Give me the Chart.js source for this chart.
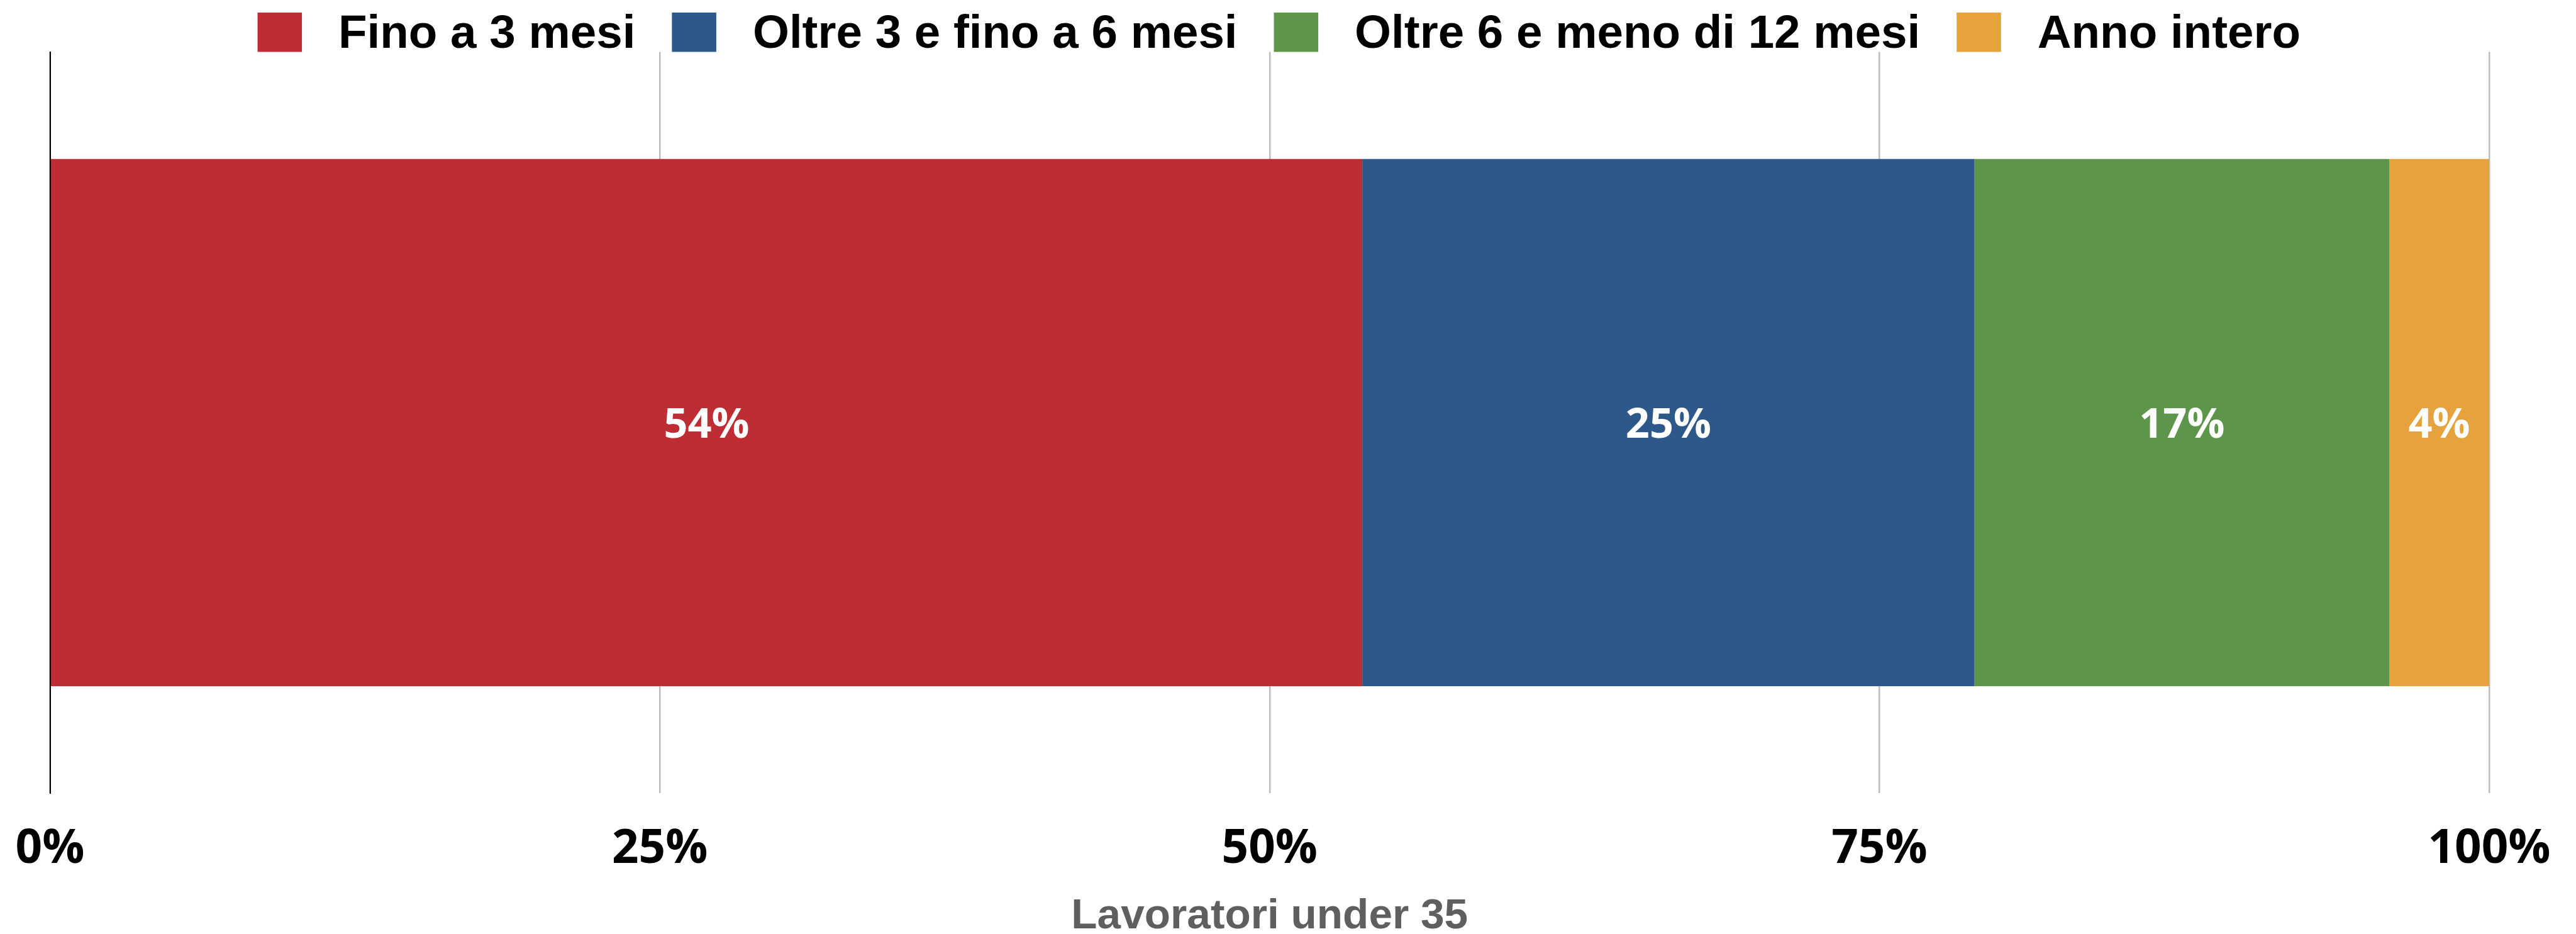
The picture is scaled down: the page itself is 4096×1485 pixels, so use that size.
<!DOCTYPE html>
<html>
<head>
<meta charset="utf-8">
<script src="https://cdn.jsdelivr.net/npm/chart.js@4"></script>
<style>
  html, body { margin: 0; padding: 0; background: #fff; }
  #wrap { width: 4096px; height: 1485px; position: relative; }
</style>
</head>
<body>
<div id="wrap"><canvas id="chart"></canvas></div>
<script>
// stacked 100% bar: duration of contracts, workers under 35
const categories = ['Lavoratori under 35'];
const seriesNames = ['Fino a 3 mesi', 'Oltre 3 e fino a 6 mesi', 'Oltre 6 e meno di 12 mesi', 'Anno intero'];
const seriesValues = [53.8, 25.1, 17.0, 4.1];
const seriesColors = ['#bd2d33', '#2e588a', '#5d964a', '#e6a23d'];
const tickValues = [0, 25, 50, 75, 100];

const S = 0.994; // reference -> window scale

// white % labels in the middle of each segment
const segmentLabels = {
  id: 'segmentLabels',
  afterDatasetsDraw(chart) {
    const ctx = chart.ctx;
    const fs = 67 * S;
    ctx.save();
    ctx.font = '700 ' + fs + 'px "Open Sans"';
    ctx.fillStyle = '#ffffff';
    ctx.textAlign = 'center';
    ctx.textBaseline = 'alphabetic';
    chart.data.datasets.forEach((ds, i) => {
      chart.getDatasetMeta(i).data.forEach((bar, j) => {
        const cx = (bar.x + bar.base) / 2;
        ctx.fillText(Math.round(ds.data[j]) + '%', cx, bar.y + fs * 0.357);
      });
    });
    ctx.restore();
  }
};

// legend sits partly over the plot top, so trim its height; nudge it right a bit
const legendFix = {
  id: 'legendFix',
  beforeInit(chart) {
    const fit = chart.legend.fit;
    chart.legend.fit = function () {
      fit.call(this);
      this.height = 122;
    };
  },
  afterLayout(chart) {
    chart.legend.left += 15;
    chart.legend.right += 15;
  }
};

new Chart(document.getElementById('chart'), {
  type: 'bar',
  data: {
    labels: categories,
    datasets: seriesNames.map((name, i) => ({
      label: name,
      data: [seriesValues[i]],
      backgroundColor: seriesColors[i],
      borderWidth: 0,
      barPercentage: 0.711,
      categoryPercentage: 1
    }))
  },
  options: {
    indexAxis: 'y',
    responsive: true,
    maintainAspectRatio: false,
    devicePixelRatio: 1,
    animation: false,
    layout: { padding: { top: -39.5, left: 79.5, right: 138, bottom: 1 } },
    plugins: {
      tooltip: { enabled: false },
      legend: {
        position: 'top',
        align: 'center',
        labels: {
          boxWidth: 71 * S,
          boxHeight: 72 * S,
          padding: 58,
          color: '#000000',
          font: { family: '"Liberation Sans", Arial, sans-serif', weight: 'bold', size: 75 * S },
          generateLabels(chart) {
            return Chart.defaults.plugins.legend.labels.generateLabels(chart).map(l => {
              l.text = ' ' + l.text;
              l.lineWidth = 0;
              return l;
            });
          }
        }
      }
    },
    scales: {
      x: {
        type: 'linear',
        stacked: true,
        min: 0,
        max: 100,
        afterBuildTicks(scale) {
          scale.ticks = tickValues.map(v => ({ value: v }));
        },
        ticks: {
          padding: 0,
          color: '#000000',
          // tall line height pushes labels down without widening side padding
          font: { family: '"Open Sans", sans-serif', weight: '700', size: 75 * S, lineHeight: 2.408 },
          callback: v => v + '%'
        },
        grid: { color: '#bdbdbd', lineWidth: 2.5, drawTicks: false },
        border: { display: false },
        title: {
          display: true,
          text: categories[0],
          color: '#5f5f5f',
          padding: { top: -11, bottom: 0 },
          font: { family: '"Liberation Sans", Arial, sans-serif', weight: 'bold', size: 68 * S, lineHeight: 0.8 }
        }
      },
      y: {
        type: 'category',
        stacked: true,
        ticks: { display: false },
        grid: { display: false, drawTicks: false },
        border: { display: true, color: '#000000', width: 2 }
      }
    }
  },
  plugins: [segmentLabels, legendFix]
});
</script>
</body>
</html>
